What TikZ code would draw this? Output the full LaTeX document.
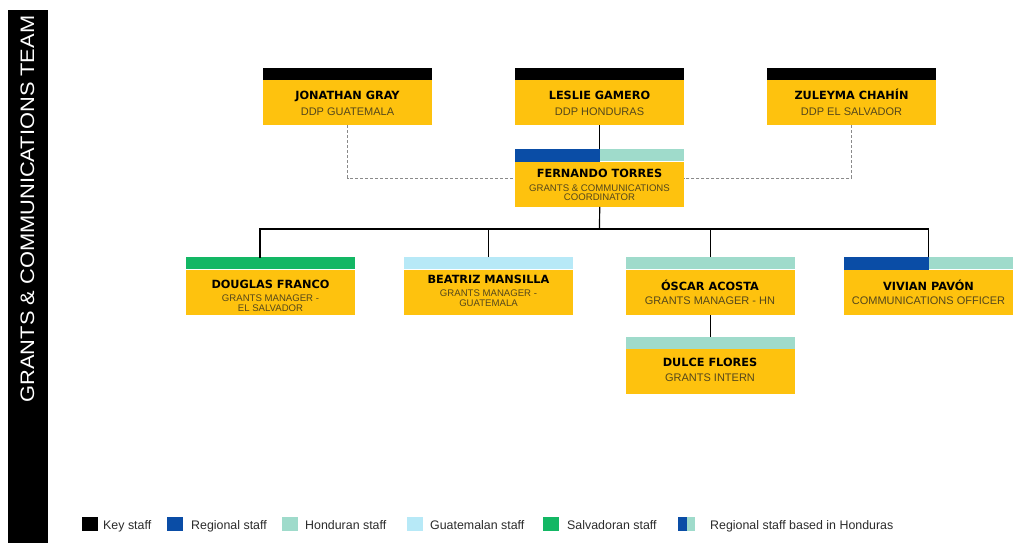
\documentclass[tikz,border=0pt]{standalone}
\usepackage{fontspec}
\usepackage{graphicx}
\setmainfont{Liberation Sans}
\newfontfamily\namefont{DejaVu Sans}
\definecolor{gold}{HTML}{FEC20E}
\definecolor{subc}{HTML}{54471C}
\definecolor{regblue}{HTML}{0A4DA6}
\definecolor{hondteal}{HTML}{9FDBCB}
\definecolor{guatblue}{HTML}{B7E9F7}
\definecolor{salgreen}{HTML}{13B764}
\definecolor{legtext}{HTML}{2B2B2B}
\definecolor{dashgray}{HTML}{8A8A8A}
\begin{document}
\begin{tikzpicture}[x=1pt,y=-1pt,
  body/.style={fill=gold, minimum width=169pt, minimum height=45pt, inner sep=0pt, anchor=north west},
  stripbox/.style={minimum width=169pt, minimum height=12pt, inner sep=0pt, anchor=south west},
  nm/.style={font=\namefont\bfseries\fontsize{11.3}{12}\selectfont, text=black, inner sep=0pt, anchor=base},
  sub/.style={font=\fontsize{11}{12}\selectfont, text=subc, inner sep=0pt, anchor=base},
  subs/.style={font=\fontsize{9.6}{10}\selectfont, text=subc, inner sep=0pt, anchor=base},
  link/.style={draw=black, line width=1.2pt},
  dashlink/.style={draw=dashgray, line width=0.8pt, dash pattern=on 3pt off 2pt},
  lg/.style={minimum width=16pt, minimum height=14pt, inner sep=0pt, anchor=north west},
  lgt/.style={font=\fontsize{12.4}{13}\selectfont, text=legtext, inner sep=0pt, anchor=base west}]
\useasboundingbox (0,0) rectangle (1014,543);
\fill[white] (0,0) rectangle (1014,543);
% side bar
\fill[black] (8,10) rectangle (48,543);
\node[rotate=90, text=white, inner sep=0pt, font=\fontsize{19.5}{20}\selectfont] (title) at (27.5,209) {\scalebox{1.12}[1]{GRANTS \& COMMUNICATIONS TEAM}};
% top row
\node[body] (jon) at (263,80) {};
\node[stripbox, fill=black] (jonS) at (jon.north west) {};
\node[nm] (jonN) at (347.5,99.5) {JONATHAN GRAY};
\node[sub] (jonT) at (347.5,115.3) {DDP GUATEMALA};
\node[body] (les) at (515,80) {};
\node[stripbox, fill=black] (lesS) at (les.north west) {};
\node[nm] (lesN) at (599.5,99.5) {LESLIE GAMERO};
\node[sub] (lesT) at (599.5,115.3) {DDP HONDURAS};
\node[body] (zul) at (767,80) {};
\node[stripbox, fill=black] (zulS) at (zul.north west) {};
\node[nm] (zulN) at (851.5,99.5) {ZULEYMA CHAHÍN};
\node[sub] (zulT) at (851.5,115.3) {DDP EL SALVADOR};
% coordinator
\node[body] (fer) at (515,161.5) {};
\node[stripbox, fill=hondteal] (ferS) at (fer.north west) {};
\fill[regblue] (ferS.north west) rectangle (ferS.south);
\node[nm] (ferN) at (599.5,177.3) {FERNANDO TORRES};
\node[subs] (ferT1) at (599.5,191) {GRANTS \& COMMUNICATIONS};
\node[subs] (ferT2) at (599.5,200.2) {COORDINATOR};
% second row
\node[body] (dg) at (186,269.5) {};
\node[stripbox, fill=salgreen] (dgS) at (dg.north west) {};
\node[nm] (dgN) at (270.5,288.3) {DOUGLAS FRANCO};
\node[subs] (dgT1) at (270.5,301.7) {GRANTS MANAGER -};
\node[subs] (dgT2) at (270.5,311.5) {EL SALVADOR};
\node[body] (be) at (404,269.5) {};
\node[stripbox, fill=guatblue] (beS) at (be.north west) {};
\node[nm] (beN) at (488.5,283.3) {BEATRIZ MANSILLA};
\node[subs] (beT1) at (488.5,296.7) {GRANTS MANAGER -};
\node[subs] (beT2) at (488.5,306.5) {GUATEMALA};
\node[body] (os) at (625.5,269.5) {};
\node[stripbox, fill=hondteal] (osS) at (os.north west) {};
\node[nm] (osN) at (710,290) {ÓSCAR ACOSTA};
\node[sub] (osT) at (710,304) {GRANTS MANAGER - HN};
\node[body] (vv) at (844,269.5) {};
\node[stripbox, fill=hondteal] (vvS) at (vv.north west) {};
\fill[regblue] (vvS.north west) rectangle (vvS.south);
\node[nm] (vvN) at (928.5,290) {VIVIAN PAVÓN};
\node[sub] (vvT) at (928.5,304) {COMMUNICATIONS OFFICER};
% intern
\node[body] (du) at (625.5,349) {};
\node[stripbox, fill=hondteal] (duS) at (du.north west) {};
\node[nm] (duN) at (710,366) {DULCE FLORES};
\node[sub] (duT) at (710,381.5) {GRANTS INTERN};
% connectors
\draw[link] (les.south) -- (ferS.north);
\coordinate (dl) at (515,178);
\coordinate (dr) at (684,178);
\draw[dashlink] (jon.south) |- (dl);
\draw[dashlink] (zul.south) |- (dr);
\coordinate (bus) at (599.5,229);
\coordinate (dgin) at (260,257.5);
\draw[link] (fer.south) -- (bus);
\draw[link] (dgin) |- (bus) -| (vvS.north);
\draw[link] (beS.north) -- (beS.north |- bus);
\draw[link] (osS.north) -- (osS.north |- bus);
\draw[link] (os.south) -- (duS.north);
% legend
\node[lg, fill=black] (k1) at (82,517) {};
\node[lgt] (k1t) at (103,529) {Key staff};
\node[lg, fill=regblue] (k2) at (167,517) {};
\node[lgt] (k2t) at (191,529) {Regional staff};
\node[lg, fill=hondteal] (k3) at (282,517) {};
\node[lgt] (k3t) at (305,529) {Honduran staff};
\node[lg, fill=guatblue] (k4) at (407,517) {};
\node[lgt] (k4t) at (430,529) {Guatemalan staff};
\node[lg, fill=salgreen] (k5) at (543,517) {};
\node[lgt] (k5t) at (567,529) {Salvadoran staff};
\node[lg, fill=regblue, minimum width=9pt] (k6a) at (678,517) {};
\node[lg, fill=hondteal, minimum width=8pt] (k6b) at (687,517) {};
\node[lgt] (k6t) at (710,529) {Regional staff based in Honduras};
\end{tikzpicture}
\end{document}
